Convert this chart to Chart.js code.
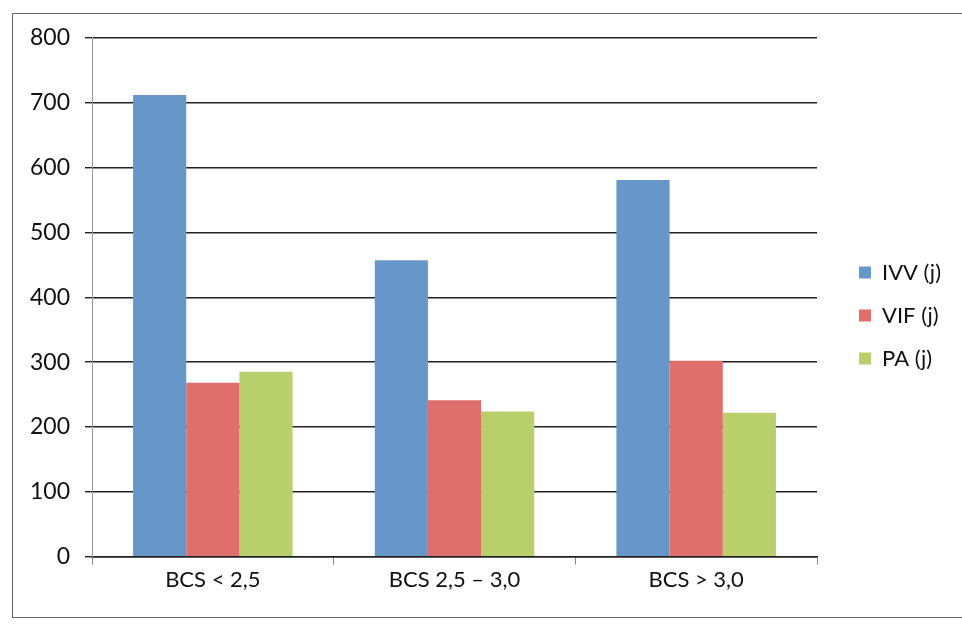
<!DOCTYPE html>
<html>
<head>
<meta charset="utf-8">
<script src="https://cdn.jsdelivr.net/npm/chart.js@4.4.1/dist/chart.umd.min.js"></script>
<style>
  html, body { margin: 0; padding: 0; background: #fff; }
  #wrap { position: relative; width: 962px; height: 625px; overflow: hidden; }
  #frame { position: absolute; left: 12px; top: 13px; width: 1000px; height: 605px; border: 1px solid #666; border-right: none; box-sizing: border-box; }
  canvas { position: absolute; left: 0; top: 0; }
</style>
</head>
<body>
<div id="wrap">
  <div id="frame"></div>
  <canvas id="c" width="962" height="625"></canvas>
</div>
<script>
const categories = ["BCS < 2,5", "BCS 2,5 \u2013 3,0", "BCS > 3,0"];
const seriesNames = ["IVV (j)", "VIF (j)", "PA (j)"];
const ivv = [712, 457, 581];
const vif = [268, 241, 302];
const pa = [285, 224, 222];
const yTicks = [0, 100, 200, 300, 400, 500, 600, 700, 800];

const colors = ["#6796c9", "#e06e6d", "#b8cf6c"];
const FONT = "Lato, 'Open Sans', sans-serif";

const shiftPlugin = {
  id: 'shiftLegend',
  afterLayout(chart) {
    const lg = chart.legend;
    if (lg) {
      lg.left += 21; lg.right += 21;
      lg.top -= 1; lg.bottom -= 1;
    }
  }
};

new Chart(document.getElementById('c'), {
  type: 'bar',
  data: {
    labels: categories,
    datasets: [
      { label: seriesNames[0], data: ivv, backgroundColor: colors[0] },
      { label: seriesNames[1], data: vif, backgroundColor: colors[1] },
      { label: seriesNames[2], data: pa, backgroundColor: colors[2] }
    ]
  },
  options: {
    responsive: false,
    animation: false,
    devicePixelRatio: 1,
    layout: { padding: { left: 0, right: 32, top: 38, bottom: 30 } },
    datasets: { bar: { barPercentage: 1.0, categoryPercentage: 0.66 } },
    plugins: {
      legend: {
        position: 'right',
        align: 'center',
        labels: {
          boxWidth: 12, boxHeight: 12, padding: 21,
          color: '#111',
          font: { family: FONT, size: 22 }
        }
      },
      tooltip: { enabled: false }
    },
    scales: {
      x: {
        offset: true,
        grid: { display: true, drawOnChartArea: false, drawTicks: true, tickLength: 8, color: '#888', offset: true },
        border: { display: true, color: '#222', width: 1.5 },
        ticks: { color: '#111', padding: 2, font: { family: FONT, size: 22 } }
      },
      y: {
        min: 0, max: 800,
        afterBuildTicks(scale) { scale.ticks = yTicks.map(v => ({ value: v })); },
        afterFit(scale) { scale.width = 92; },
        grid: { color: '#222', lineWidth: 1.4, tickLength: 7, drawTicks: true },
        border: { display: true, color: '#999', width: 1 },
        ticks: { color: '#111', padding: 15, font: { family: FONT, size: 23 } }
      }
    }
  },
  plugins: [shiftPlugin]
});
</script>
</body>
</html>
